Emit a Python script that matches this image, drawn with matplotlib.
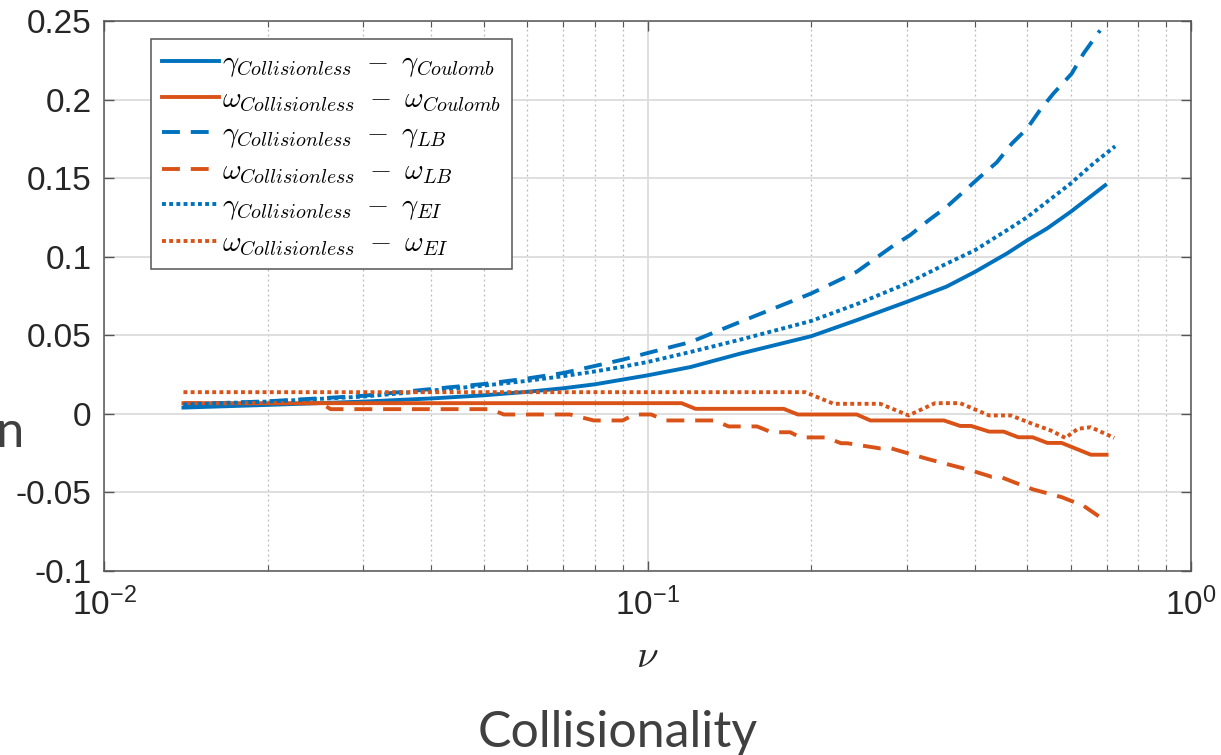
import matplotlib
matplotlib.use("Agg")
import matplotlib.pyplot as plt
from matplotlib.ticker import FixedLocator, FuncFormatter, LogLocator, NullFormatter
from matplotlib.font_manager import FontProperties

plt.rcParams['font.family'] = ['Liberation Sans', 'DejaVu Sans']
plt.rcParams['axes.unicode_minus'] = False

BLUE = '#0072BD'
ORANGE = '#D95319'

# gamma_collisionless - gamma_coulomb
gam_coul_x = [0.014, 0.02, 0.03, 0.04, 0.05, 0.06, 0.07, 0.08, 0.1, 0.12, 0.148,
              0.2, 0.2425, 0.3, 0.355, 0.4, 0.458, 0.5, 0.543, 0.6, 0.695]
gam_coul_y = [0.004, 0.0057, 0.0078, 0.0098, 0.0118, 0.014, 0.0163, 0.0188, 0.0245,
              0.0298, 0.0383, 0.0494, 0.0596, 0.0713, 0.081, 0.0903, 0.102, 0.1105,
              0.1179, 0.1285, 0.1455]

# omega_collisionless - omega_coulomb
om_coul_x = [0.014, 0.1155, 0.1225, 0.178, 0.189, 0.2426, 0.257, 0.351, 0.376, 0.394,
             0.425, 0.452, 0.481, 0.511, 0.544, 0.578, 0.654, 0.699]
om_coul_y = [0.0068, 0.0068, 0.0032, 0.0032, -0.0004, -0.0004, -0.0042, -0.0042,
             -0.0077, -0.0077, -0.0113, -0.0113, -0.0149, -0.0149, -0.0185, -0.0185,
             -0.026, -0.026]

# gamma_collisionless - gamma_LB
gam_lb_x = [0.014, 0.02, 0.03, 0.04, 0.05, 0.06, 0.07, 0.08, 0.09, 0.1, 0.12, 0.148,
            0.2, 0.2425, 0.281, 0.304, 0.329, 0.355, 0.381, 0.409, 0.439, 0.468, 0.499,
            0.527, 0.558, 0.603, 0.634, 0.68]
gam_lb_y = [0.006, 0.008, 0.0115, 0.0158, 0.019, 0.0225, 0.026, 0.0305, 0.0345, 0.0387,
            0.0457, 0.0585, 0.0766, 0.0904, 0.1062, 0.1137, 0.1232, 0.1317, 0.1412,
            0.1508, 0.160, 0.172, 0.1815, 0.1932, 0.2038, 0.2165, 0.2293, 0.244]

# omega_collisionless - omega_LB
om_lb_x = [0.014, 0.0251, 0.0261, 0.0514, 0.0544, 0.072, 0.0796, 0.09, 0.0945, 0.1016,
           0.1075, 0.1327, 0.141, 0.159, 0.169, 0.183, 0.191, 0.213, 0.227, 0.233,
           0.268, 0.281, 0.304, 0.330, 0.365, 0.394, 0.429, 0.445, 0.473, 0.511,
           0.578, 0.634, 0.695]
om_lb_y = [0.0068, 0.0068, 0.003, 0.003, -0.0004, -0.0004, -0.0042, -0.0042, -0.0004,
           -0.0004, -0.0042, -0.0042, -0.008, -0.008, -0.0117, -0.0117, -0.015, -0.015,
           -0.0187, -0.0187, -0.022, -0.022, -0.0255, -0.029, -0.033, -0.036, -0.040,
           -0.040, -0.0436, -0.048, -0.053, -0.0585, -0.068]

# gamma_collisionless - gamma_EI
gam_ei_x = [0.014, 0.02, 0.03, 0.04, 0.05, 0.06, 0.07, 0.08, 0.09, 0.1, 0.12, 0.148,
            0.2, 0.2425, 0.3, 0.355, 0.4, 0.458, 0.5, 0.543, 0.6, 0.661, 0.725]
gam_ei_y = [0.006, 0.0078, 0.011, 0.0148, 0.018, 0.021, 0.024, 0.027, 0.030, 0.033,
            0.0394, 0.0472, 0.0591, 0.0698, 0.083, 0.0956, 0.1041, 0.1168, 0.1253,
            0.1349, 0.1465, 0.1593, 0.1703]

# omega_collisionless - omega_EI
om_ei_x = [0.014, 0.195, 0.22, 0.268, 0.302, 0.338, 0.376, 0.425, 0.466, 0.511, 0.552,
           0.587, 0.619, 0.654, 0.722]
om_ei_y = [0.0138, 0.0138, 0.0064, 0.0064, -0.001, 0.0068, 0.0068, -0.001, -0.001,
           -0.0064, -0.0106, -0.0153, -0.0095, -0.0085, -0.0153]

labels = [r'$\gamma_{Collisionless}\ -\ \gamma_{Coulomb}$',
          r'$\omega_{Collisionless}\ -\ \omega_{Coulomb}$',
          r'$\gamma_{Collisionless}\ -\ \gamma_{LB}$',
          r'$\omega_{Collisionless}\ -\ \omega_{LB}$',
          r'$\gamma_{Collisionless}\ -\ \gamma_{EI}$',
          r'$\omega_{Collisionless}\ -\ \omega_{EI}$']

yticks = [-0.1, -0.05, 0, 0.05, 0.1, 0.15, 0.2, 0.25]

fig = plt.figure(figsize=(12.21, 7.55), dpi=100)
ax = fig.add_axes([0.0852, 0.2437, 0.8903, 0.7285])

lw = 2.8
dash = (4.6, 2.8)
dot = (1.0, 0.85)
ax.plot(gam_coul_x, gam_coul_y, color=BLUE, lw=lw, label=labels[0])
ax.plot(om_coul_x, om_coul_y, color=ORANGE, lw=lw, label=labels[1])
ax.plot(gam_lb_x, gam_lb_y, color=BLUE, lw=lw, dashes=dash, label=labels[2])
ax.plot(om_lb_x, om_lb_y, color=ORANGE, lw=lw, dashes=dash, label=labels[3])
ax.plot(gam_ei_x, gam_ei_y, color=BLUE, lw=lw, dashes=dot, label=labels[4])
ax.plot(om_ei_x, om_ei_y, color=ORANGE, lw=lw, dashes=dot, label=labels[5])

ax.set_xscale('log')
ax.set_xlim(0.01, 1)
ax.set_ylim(-0.1, 0.25)
ax.yaxis.set_major_locator(FixedLocator(yticks))
ax.yaxis.set_major_formatter(FuncFormatter(lambda v, p: '%g' % v))
ax.xaxis.set_minor_locator(LogLocator(base=10, subs=range(2, 10)))
ax.xaxis.set_minor_formatter(NullFormatter())

ax.grid(True, which='major', color='#dcdcdc', lw=1.3, ls='-')
ax.grid(True, which='minor', axis='x', color='#b8b8b8', lw=0.9, ls=(0, (1.5, 2.5)))
ax.set_axisbelow(True)

for s in ax.spines.values():
    s.set_color('#555555')
    s.set_linewidth(1.1)
ax.tick_params(which='both', direction='in', top=True, right=True, color='#555555',
               labelcolor='#262626', labelsize=24)
ax.tick_params(which='major', length=7, width=1.0)
ax.tick_params(which='minor', length=4, width=0.8)
ax.tick_params(axis='y', pad=9)
ax.tick_params(axis='x', pad=12)

ax.set_xlabel(r'$\nu$', fontsize=28, math_fontfamily='cm', labelpad=12, color='#262626')

leg = ax.legend(loc='upper left', bbox_to_anchor=(0.043, 0.967), borderaxespad=0,
                prop=FontProperties(size=20.5, math_fontfamily='cm'),
                handlelength=2.0, handletextpad=0.1, labelspacing=0.3,
                borderpad=0.4, fancybox=False, framealpha=1)
leg.get_frame().set_edgecolor('#555555')
leg.get_frame().set_linewidth(1.1)

fig.text(758 / 1221, 1 - 747 / 755, 'Collisionality', fontsize=36, family='Lato',
         color='#404040', ha='right', va='baseline')
fig.text(25 / 1221, 1 - 447 / 755, 'on', fontsize=36, family='Lato',
         color='#404040', ha='right', va='baseline')

fig.savefig('out.png', dpi=100)
